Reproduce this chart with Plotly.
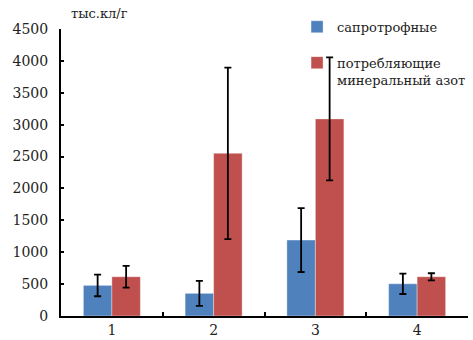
import plotly.graph_objects as go

# Groups on the x axis
categories = ["1", "2", "3", "4"]

# Mean counts (thousand cells per gram) and their error margins
saprotroph = [480, 355, 1190, 505]
saprotroph_err = [170, 195, 500, 160]
mineral_n = [615, 2550, 3090, 615]
mineral_n_err = [170, 1345, 965, 55]

series_names = ["сапротрофные", "потребляющие<br>минеральный азот"]
y_ticks = [0, 500, 1000, 1500, 2000, 2500, 3000, 3500, 4000, 4500]

FONT = "DejaVu Serif"
BLUE = "#4F81BD"
RED = "#C0504D"

fig = go.Figure()
for name, vals, errs, color, grp in [
    (series_names[0], saprotroph, saprotroph_err, BLUE, "a"),
    (series_names[1], mineral_n, mineral_n_err, RED, "b"),
]:
    fig.add_trace(go.Bar(
        x=categories, y=vals, name=name, legendgroup=grp,
        marker=dict(color=color, line=dict(color="rgba(255,255,255,0.35)", width=1)),
        error_y=dict(type="data", array=errs, visible=True,
                     color="black", thickness=1.8, width=3.5),
    ))

fig.update_layout(
    width=473, height=340,
    margin=dict(l=61, r=5, t=29, b=24, autoexpand=False),
    paper_bgcolor="white", plot_bgcolor="white",
    barmode="group", bargap=0.44, bargroupgap=0,
    font=dict(family=FONT, size=14, color="black"),
    showlegend=True,
    legend=dict(
        x=0.58, y=1.06, xanchor="left", yanchor="top",
        bgcolor="rgba(0,0,0,0)", font=dict(family=FONT, size=13, color="#222"),
        traceorder="grouped", tracegroupgap=16, valign="top",
        itemwidth=30,
    ),
    xaxis=dict(
        type="category", showline=True, linecolor="black", linewidth=2,
        ticks="inside", ticklen=4, tickwidth=1.5, tickcolor="black",
        tickson="boundaries", showgrid=False, zeroline=False,
        tickfont=dict(family=FONT, size=14, color="#222"),
    ),
    yaxis=dict(
        range=[0, 4500], tickvals=y_ticks, showline=True, linecolor="black",
        linewidth=2, ticks="inside", ticklen=3, tickwidth=1.5, tickcolor="black",
        showgrid=False, zeroline=False, ticklabelstandoff=8,
        tickfont=dict(family=FONT, size=14, color="#222"),
    ),
    annotations=[dict(
        text="тыс.кл/г", xref="paper", yref="paper", x=0.02, y=1.02,
        xanchor="left", yanchor="bottom", showarrow=False,
        font=dict(family=FONT, size=13, color="#222"),
    )],
)

fig.write_html("out.html")
